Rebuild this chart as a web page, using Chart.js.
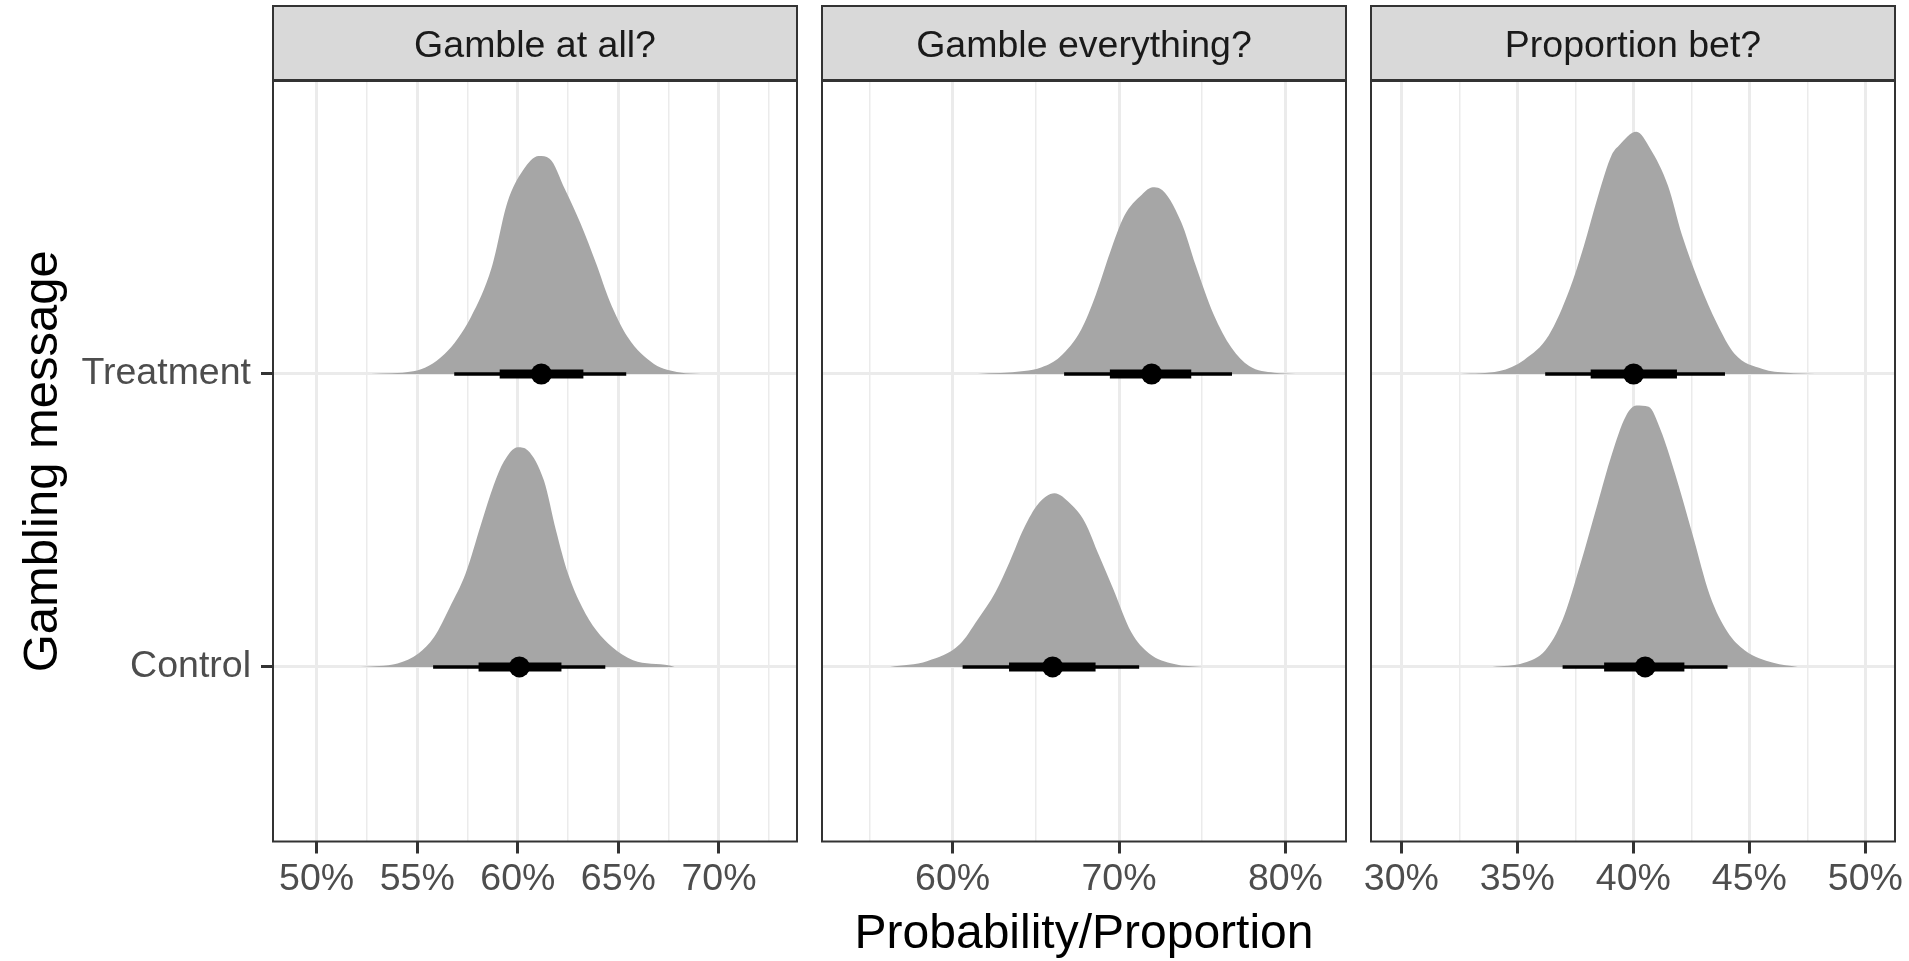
<!DOCTYPE html>
<html lang="en">
<head>
<meta charset="utf-8">
<title>Gambling message - posterior densities</title>
<script src="https://cdn.jsdelivr.net/npm/chart.js"></script>
<style>
  body { margin: 0; background: #ffffff; }
  #wrap { position: relative; width: 1909px; height: 961px; }
  #wrap canvas { position: absolute; left: 0; top: 0; }
</style>
</head>
<body>
<div id="wrap">
  <canvas id="panel1" width="1909" height="961"></canvas>
  <canvas id="panel2" width="1909" height="961"></canvas>
  <canvas id="panel3" width="1909" height="961"></canvas>
</div>
<script>
// ---- values (percent) ----
const panelTitles = ['Gamble at all?', 'Gamble everything?', 'Proportion bet?'];
const groupLabels = ['Control', 'Treatment'];   // y = 1, y = 2

const xLimits = [[47.83, 73.88], [52.15, 83.64], [28.69, 51.28]];
const xMajor = [[50, 55, 60, 65, 70], [60, 70, 80], [30, 35, 40, 45, 50]];
const xMinor = [[52.5, 57.5, 62.5, 67.5, 72.5], [55, 65, 75], [32.5, 37.5, 42.5, 47.5]];

// slab densities: x position and height above the group line (in y units)
const allTreatX = [52.7, 54.8, 56.36, 57.66, 58.7, 59.48, 60.26, 61.04, 61.58, 62.35, 63.13, 63.9, 64.56, 65.47, 66.77, 68.07, 69.1];
const allTreatH = [0, 0.009, 0.068, 0.193, 0.363, 0.585, 0.695, 0.744, 0.735, 0.63, 0.512, 0.376, 0.25, 0.125, 0.034, 0.005, 0];
const allCtrlX = [52.2, 54.02, 55.06, 55.84, 56.62, 57.4, 58.18, 58.8, 59.3, 60.0, 60.5, 61.3, 61.9, 62.5, 63.2, 63.9, 64.69, 65.73, 67.55, 67.8];
const allCtrlH = [0, 0.012, 0.046, 0.102, 0.204, 0.318, 0.489, 0.62, 0.70, 0.75, 0.739, 0.636, 0.466, 0.318, 0.204, 0.125, 0.068, 0.023, 0.005, 0];

const evTreatX = [61.5, 64.29, 65.36, 66.44, 67.73, 68.59, 69.45, 70.31, 71.37, 72.03, 72.45, 73.74, 74.6, 75.68, 76.75, 77.82, 79.33, 80.6];
const evTreatH = [0, 0.010, 0.023, 0.058, 0.152, 0.268, 0.413, 0.539, 0.612, 0.637, 0.633, 0.518, 0.372, 0.204, 0.090, 0.027, 0.004, 0];
const evCtrlX = [56.24, 58.5, 60.43, 61.5, 62.57, 63.43, 64.29, 65.15, 66.12, 67.08, 67.94, 68.8, 69.66, 70.73, 71.81, 73.31, 75.03];
const evCtrlH = [0, 0.020, 0.077, 0.161, 0.255, 0.359, 0.474, 0.557, 0.593, 0.557, 0.495, 0.380, 0.265, 0.119, 0.046, 0.010, 0];

const propTreatX = [32.57, 34.23, 35.29, 36.35, 37.25, 37.86, 38.46, 39.07, 39.37, 40.13, 40.73, 41.49, 42.09, 42.85, 43.6, 44.36, 45.57, 46.62, 47.83];
const propTreatH = [0, 0.010, 0.048, 0.131, 0.288, 0.435, 0.602, 0.748, 0.779, 0.827, 0.769, 0.643, 0.476, 0.309, 0.173, 0.069, 0.017, 0.004, 0];
const propCtrlX = [33.93, 35.29, 36.2, 36.95, 37.71, 38.46, 39.07, 39.67, 40.13, 40.66, 41.18, 41.79, 42.55, 43.3, 44.06, 44.81, 46.03, 47.09];
const propCtrlH = [0, 0.014, 0.056, 0.161, 0.349, 0.557, 0.725, 0.855, 0.892, 0.888, 0.808, 0.662, 0.453, 0.244, 0.119, 0.056, 0.014, 0];

// point + interval summaries, one entry per panel
const treatMedian = [61.17, 71.96, 40.01];
const treatInner = [[59.1, 63.26], [69.45, 74.34], [38.16, 41.88]];
const treatOuter = [[56.84, 65.39], [66.7, 76.79], [36.2, 43.95]];
const ctrlMedian = [60.08, 66.01, 40.51];
const ctrlInner = [[58.05, 62.17], [63.39, 68.59], [38.74, 42.2]];
const ctrlOuter = [[55.79, 64.35], [60.6, 71.21], [36.95, 44.06]];

// ---- look ----
const panelLeft = [273, 822, 1371];
const panelWidth = 524;
const axisHeight = 119.5;
const FONT = '"Liberation Sans", Arial, sans-serif';
const SLAB = '#A6A6A6';
const GRID = '#EBEBEB';
const DARK = '#333333';

Chart.defaults.font.family = FONT;

// strip on top + border round the panel
const panelFrame = {
  id: 'panelFrame',
  afterDraw(chart, args, opts) {
    const ctx = chart.ctx, a = chart.chartArea;
    const w = a.right - a.left;
    ctx.save();
    ctx.fillStyle = '#D9D9D9';
    ctx.fillRect(a.left, 6, w, 74);
    ctx.strokeStyle = DARK;
    ctx.lineWidth = 2;
    ctx.strokeRect(a.left, 6, w, 74);
    ctx.fillStyle = '#1A1A1A';
    ctx.font = '37.5px ' + FONT;
    ctx.textAlign = 'center';
    ctx.textBaseline = 'alphabetic';
    ctx.fillText(opts.title, a.left + w / 2, 56.5);
    ctx.strokeRect(a.left, a.top, w, a.bottom - a.top);
    ctx.restore();
  }
};

function slab(xs, hs, base) {
  return {
    data: xs.map((x, i) => ({ x: x, y: base + hs[i] })),
    fill: { value: base },
    backgroundColor: SLAB,
    borderWidth: 0,
    pointRadius: 0,
    cubicInterpolationMode: 'monotone',
    order: 4
  };
}

function bar(range, base, width, order) {
  return {
    data: [{ x: range[0], y: base }, { x: range[1], y: base }],
    borderColor: '#000000',
    borderWidth: width,
    borderCapStyle: 'butt',
    pointRadius: 0,
    fill: false,
    order: order
  };
}

function dot(v, base) {
  return {
    data: [{ x: v, y: base }],
    showLine: false,
    pointRadius: 10.5,
    pointBackgroundColor: '#000000',
    pointBorderWidth: 0,
    order: 1
  };
}

function makePanel(id, p, treatX, treatH, ctrlX, ctrlH) {
  const first = p === 0;
  const middle = p === 1;
  const majors = xMajor[p];
  const xTicks = majors.concat(xMinor[p]).sort((a, b) => a - b);

  new Chart(document.getElementById(id), {
    type: 'line',
    data: {
      datasets: [
        slab(treatX, treatH, 2),
        slab(ctrlX, ctrlH, 1),
        bar(treatOuter[p], 2, 3.5, 3),
        bar(ctrlOuter[p], 1, 3.5, 3),
        bar(treatInner[p], 2, 9, 2),
        bar(ctrlInner[p], 1, 9, 2),
        dot(treatMedian[p], 2),
        dot(ctrlMedian[p], 1)
      ]
    },
    options: {
      responsive: false,
      animation: false,
      devicePixelRatio: 1,
      events: [],
      layout: {
        padding: {
          left: first ? 0 : panelLeft[p],
          right: 1909 - panelLeft[p] - panelWidth,
          top: 81,
          bottom: 0
        }
      },
      plugins: {
        legend: { display: false },
        tooltip: { enabled: false },
        panelFrame: { title: panelTitles[p] }
      },
      scales: {
        x: {
          type: 'linear',
          min: xLimits[p][0],
          max: xLimits[p][1],
          afterBuildTicks: s => { s.ticks = xTicks.map(v => ({ value: v })); },
          afterFit: s => { s.height = axisHeight; },
          border: { display: false },
          grid: {
            color: GRID,
            lineWidth: c => majors.includes(c.tick.value) ? 3 : 1.5,
            tickLength: 12,
            tickWidth: 3,
            tickColor: c => majors.includes(c.tick.value) ? DARK : 'rgba(0,0,0,0)'
          },
          ticks: {
            autoSkip: false,
            maxRotation: 0,
            padding: 4,
            color: '#4D4D4D',
            font: { size: 37.5 },
            callback: v => majors.includes(v) ? v + '%' : ''
          },
          title: {
            display: middle,
            text: 'Probability/Proportion',
            color: '#000000',
            font: { size: 48, lineHeight: 1.0 },
            padding: { top: 0, bottom: 2 }
          }
        },
        y: {
          type: 'linear',
          min: 0.404,
          max: 3.0,
          afterBuildTicks: s => { s.ticks = [{ value: 1 }, { value: 2 }]; },
          afterFit: s => { s.width = first ? panelLeft[0] : 0; },
          border: { display: false },
          grid: {
            color: GRID,
            lineWidth: 3,
            drawTicks: first,
            tickLength: 12,
            tickWidth: 3,
            tickColor: DARK
          },
          ticks: {
            display: first,
            padding: 10,
            color: '#4D4D4D',
            font: { size: 37.5 },
            callback: v => groupLabels[v - 1]
          },
          title: {
            display: first,
            text: 'Gambling message',
            color: '#000000',
            font: { size: 49 },
            padding: { top: 14, bottom: 0 }
          }
        }
      }
    },
    plugins: [panelFrame]
  });
}

makePanel('panel1', 0, allTreatX, allTreatH, allCtrlX, allCtrlH);
makePanel('panel2', 1, evTreatX, evTreatH, evCtrlX, evCtrlH);
makePanel('panel3', 2, propTreatX, propTreatH, propCtrlX, propCtrlH);
</script>
</body>
</html>
